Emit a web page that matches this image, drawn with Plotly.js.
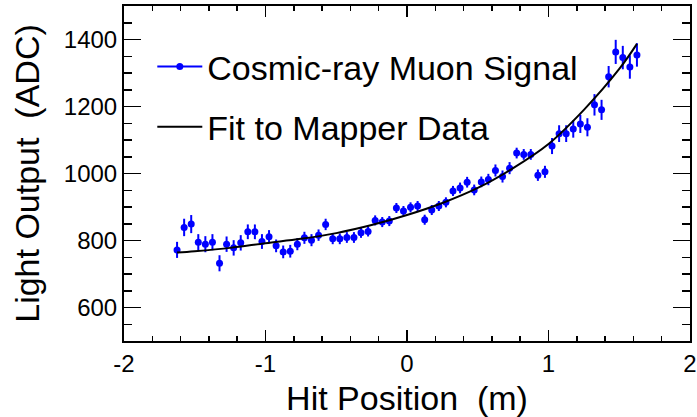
<!DOCTYPE html>
<html>
<head>
<meta charset="utf-8">
<script src="https://cdn.plot.ly/plotly-3.0.1.min.js"></script>
<style>html,body{margin:0;padding:0;background:#fff;}#chart{width:697px;height:417px;}</style>
</head>
<body>
<div id="chart"></div>
<script>
// Hit positions (m)
const hitPos = [-1.625,-1.575,-1.525,-1.475,-1.425,-1.375,-1.325,-1.275,-1.225,-1.175,-1.125,-1.075,-1.025,
  -0.975,-0.925,-0.875,-0.825,-0.775,-0.725,-0.675,-0.625,-0.575,-0.525,-0.475,-0.425,-0.375,
  -0.325,-0.275,-0.225,-0.175,-0.125,-0.075,-0.025,0.025,0.075,0.125,0.175,0.225,0.275,0.325,
  0.375,0.425,0.475,0.525,0.575,0.625,0.675,0.725,0.775,0.825,0.875,0.925,0.975,
  1.025,1.075,1.125,1.175,1.225,1.275,1.325,1.375,1.425,1.475,1.525,1.575,1.625];
// Light output (ADC) of the cosmic-ray muon signal
const lightOut = [772,839,849,795,789,795,732,789,778,793,826,826,797,
  811,784,766,768,789,808,801,816,848,805,805,809,809,
  823,827,860,855,858,897,888,899,903,862,891,903,914,948,
  957,974,951,975,982,1009,991,1016,1061,1057,1057,995,1005,
  1082,1119,1119,1133,1148,1138,1205,1190,1289,1363,1346,1318,1354];
// Errors (ADC)
const lightErr = [24,26,27,24,24,24,24,23,23,23,22,22,22,
  20,19,19,19,18,18,18,17,17,16,16,16,16,
  15,15,15,15,15,15,15,15,15,15,15,15,15,15,
  16,16,16,16,17,18,18,18,16,16,16,17,18,
  24,25,25,26,27,27,32,30,32,36,35,35,35];
// Fit to mapper data
const fitX = [-1.625,-1.5,-1.25,-1.0,-0.75,-0.5,-0.25,0,0.25,0.5,0.75,1.0,1.25,1.5,1.625];
const fitY = [764,768,778,792,805,822,846,876,912,957,1016,1088,1190,1312,1387];
// Tick labels
const xTickVals = [-2,-1,0,1,2];
const xTickText = ['-2','-1','0','1','2'];
const yTickVals = [600,800,1000,1200,1400];
const yTickText = ['600','800','1000','1200','1400'];

const FONT = 'Liberation Sans, Arial, Helvetica, sans-serif';
const BLUE = '#0000ff';

const traces = [
  {x: hitPos, y: lightOut, type: 'scatter', mode: 'markers', showlegend: false,
   marker: {color: BLUE, size: 7},
   error_y: {type: 'data', array: lightErr, visible: true, color: BLUE, thickness: 2, width: 0}},
  {x: [null], y: [null], type: 'scatter', mode: 'lines+markers', name: 'Cosmic-ray Muon Signal',
   legendgroup: 'a', line: {color: BLUE, width: 2}, marker: {color: BLUE, size: 7}},
  {x: fitX, y: fitY, type: 'scatter', mode: 'lines', name: 'Fit to Mapper Data',
   legendgroup: 'b', line: {color: 'black', width: 2, shape: 'spline'}}
];

const axisCommon = {
  showgrid: false, zeroline: false, showline: true, linecolor: 'black', linewidth: 2,
  mirror: 'allticks', ticks: 'inside', tickcolor: 'black', tickwidth: 1.5,
  tickfont: {family: FONT, size: 24, color: 'black'}
};

const layout = {
  width: 697, height: 417,
  margin: {l: 124, r: 7, t: 6, b: 76},
  paper_bgcolor: 'white', plot_bgcolor: 'white',
  font: {family: FONT, color: 'black'},
  xaxis: Object.assign({}, axisCommon, {
    range: [-2, 2], tickmode: 'array', tickvals: xTickVals, ticktext: xTickText, ticklen: 11,
    minor: {dtick: 0.2, ticklen: 5, ticks: 'inside', tickcolor: 'black', tickwidth: 1.5, showgrid: false},
    title: {text: 'Hit Position\u00a0\u00a0(m)', font: {family: FONT, size: 34, color: 'black'}, standoff: 22}
  }),
  yaxis: Object.assign({}, axisCommon, {
    range: [500, 1500], tickmode: 'array', tickvals: yTickVals, ticktext: yTickText, ticklen: 17,
    minor: {dtick: 50, ticklen: 8, ticks: 'inside', tickcolor: 'black', tickwidth: 1.5, showgrid: false},
    title: {text: 'Light Output\u00a0\u00a0(ADC)', font: {family: FONT, size: 34, color: 'black'}, standoff: 14}
  }),
  legend: {x: 0.05, y: 0.905, xanchor: 'left', yanchor: 'top', bgcolor: 'rgba(0,0,0,0)',
    borderwidth: 0, font: {family: FONT, size: 34, color: 'black'}, itemwidth: 45,
    traceorder: 'grouped', tracegroupgap: 13}
};

Plotly.newPlot('chart', traces, layout, {displayModeBar: false, staticPlot: true});
</script>
</body>
</html>
